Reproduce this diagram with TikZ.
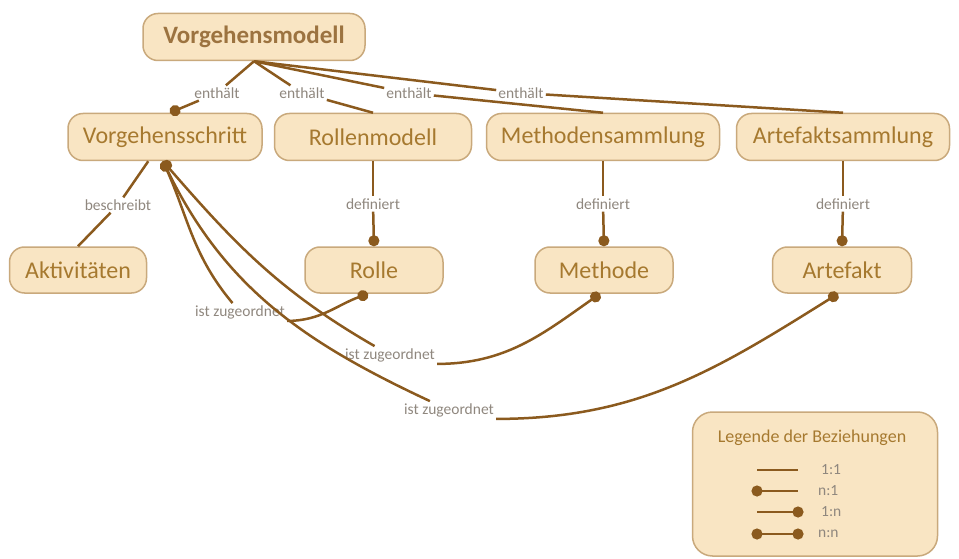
\documentclass[tikz,border=0pt]{standalone}
\usepackage{fontspec}
\setmainfont{Carlito}
\usetikzlibrary{arrows.meta}

\definecolor{conceptfill}{HTML}{F9E5C3}
\definecolor{conceptdraw}{HTML}{C9A97C}
\definecolor{concepttext}{HTML}{A6792F}
\definecolor{linkbrown}{HTML}{8B5A1E}
\definecolor{relgray}{HTML}{8F877E}

\tikzset{
    concept/.style={draw=conceptdraw, fill=conceptfill, line width=1.5pt,
        rounded corners=15pt, minimum height=47pt, inner sep=0pt,
        text=concepttext, font=\fontsize{24}{28}\selectfont},
    relation/.style={text=relgray, inner sep=2pt, font=\fontsize{15.5}{18}\selectfont},
    link/.style={draw=linkbrown, line width=2.5pt},
    toMany/.style={-{Circle[length=11pt]}},
    fromMany/.style={{Circle[length=11pt]}-},
}

\begin{document}
\begin{tikzpicture}[x=1pt,y=-1pt]
        \useasboundingbox (0,0) rectangle (959,559);

        % Konzepte
        \node[concept,minimum width=222pt,text=linkbrown!85,font=\fontsize{25}{28}\bfseries] (vm) at (254,37) {Vorgehensmodell};
        \node[concept,minimum width=194pt] (vs) at (165,137) {Vorgehensschritt};
        \node[concept,minimum width=197pt] (rm) at (373,137) {Rollenmodell};
        \node[concept,minimum width=233pt] (msam) at (603,137) {Methodensammlung};
        \node[concept,minimum width=213pt] (asam) at (843,137) {Artefaktsammlung};
        \node[concept,minimum width=137pt,minimum height=46pt] (akt) at (78,270) {Aktivitäten};
        \node[concept,minimum width=138pt,minimum height=46pt] (rolle) at (374,270) {Rolle};
        \node[concept,minimum width=138pt,minimum height=46pt] (meth) at (604,270) {Methode};
        \node[concept,minimum width=139pt,minimum height=46pt] (arte) at (842,270) {Artefakt};

        % Beziehungen
        \node[relation] (e1) at (217,93) {enthält};
        \node[relation] (e2) at (302,93) {enthält};
        \node[relation] (e3) at (409,93) {enthält};
        \node[relation] (e4) at (521,93) {enthält};
        \node[relation] (b1) at (118,205) {beschreibt};
        \node[relation] (d1) at (373,204) {definiert};
        \node[relation] (d2) at (603,204) {definiert};
        \node[relation] (d3) at (843,204) {definiert};
        \node[relation] (z1) at (240,312) {ist zugeordnet};
        \node[relation] (z2) at (390,355) {ist zugeordnet};
        \node[relation] (z3) at (449,410) {ist zugeordnet};

        \draw[link] (vm.south) -- (e1);
        \draw[link,toMany] (e1) -- ([xshift=5pt]vs.north);
        \draw[link] (vm.south) -- (e2);
        \draw[link] (e2) -- (rm.north);
        \draw[link] (vm.south) -- (e3);
        \draw[link] (e3) -- (msam.north);
        \draw[link] (vm.south) -- (e4);
        \draw[link] (e4) -- (asam.north);

        \draw[link] (vs) -- (b1);
        \draw[link] (b1) -- (akt.north);

        \draw[link] (rm) -- (d1);
        \draw[link,toMany] (d1) -- (rolle.north);
        \draw[link] (msam) -- (d2);
        \draw[link,toMany] (d2) -- (meth.north);
        \draw[link] (asam) -- (d3);
        \draw[link,toMany] (d3) -- (arte.north);

        \draw[link,fromMany] ([xshift=-2pt]vs.south) to[out=-66,in=130] (z1);
        \draw[link,toMany] (z1.south east) to[out=0,in=200] ([xshift=-6pt]rolle.south);
        \draw[link,fromMany] ([xshift=-2pt]vs.south) to[out=-49,in=150] (z2);
        \draw[link,toMany] (z2.south east) to[out=0,in=215] ([xshift=-4pt]meth.south);
        \draw[link,fromMany] ([xshift=-2pt]vs.south) to[out=-64,in=155] (z3);
        \draw[link,toMany] (z3.south east) to[out=0,in=212] ([xshift=-4pt]arte.south);

        % Legende
        \node[concept,minimum width=245pt,minimum height=144pt,rounded corners=20pt] (leg) at (815,484) {};
        \node[text=concepttext,font=\fontsize{18}{20}\selectfont] (legt) at (812,438) {Legende der Beziehungen};
        \coordinate (a1) at (757,470); \coordinate (b1r) at (798,470);
        \coordinate (a2) at (757,491); \coordinate (b2r) at (798,491);
        \coordinate (a3) at (757,512); \coordinate (b3r) at (798,512);
        \coordinate (a4) at (757,534); \coordinate (b4r) at (798,534);
        \draw[link] (a1) -- (b1r);
        \draw[link,{Circle[length=11pt,sep=-5.5pt]}-] (a2) -- (b2r);
        \draw[link,-{Circle[length=11pt,sep=-5.5pt]}] (a3) -- (b3r);
        \draw[link,{Circle[length=11pt,sep=-5.5pt]}-{Circle[length=11pt,sep=-5.5pt]}] (a4) -- (b4r);
        \node[relation,anchor=west] (r1) at (819,470) {1:1};
        \node[relation,anchor=west] (r2) at (816,491) {n:1};
        \node[relation,anchor=west] (r3) at (819,512) {1:n};
        \node[relation,anchor=west] (r4) at (816,534) {n:n};

    \end{tikzpicture}
\end{document}
